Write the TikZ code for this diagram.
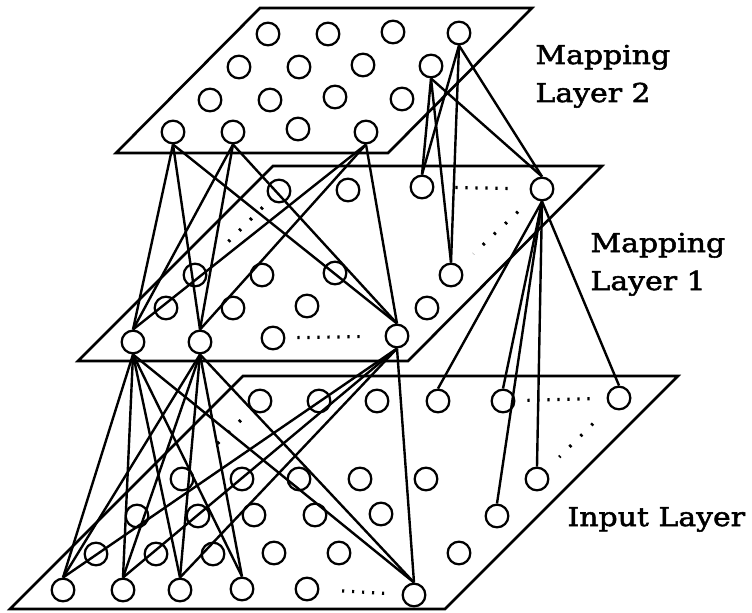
\documentclass[tikz,border=0pt]{standalone}
\usepackage{fontspec}
\setmainfont[FakeStretch=1.15,FakeBold=2]{DejaVu Serif}

\tikzset{every picture/.style={line width=0.75pt}}
\tikzset{
  unit/.style={draw, circle, minimum size=17pt, inner sep=0pt, line width=1.7pt},
  plane/.style={line width=2pt, line join=miter},
  link/.style={line width=1.8pt},
  dotrow/.style={line width=2.4pt, dash pattern=on 1.6pt off 5.9pt},
  dotdiag/.style={line width=2.4pt, dash pattern=on 1.8pt off 9.7pt},
  layername/.style={anchor=base west, inner sep=0pt, align=left, font=\fontsize{19.5}{28.5}\selectfont}
}

\begin{document}
\begin{tikzpicture}[x=0.75pt,y=0.75pt,yscale=-1,xscale=1]
\useasboundingbox (0,0) rectangle (752,613);

%Shape: Parallelogram, mapping layer 2
\draw [plane] (260,8) -- (532,8) -- (388,153) -- (116,153) -- cycle ;
%Shape: Parallelogram, mapping layer 1
\draw [plane] (273,166) -- (602,166) -- (408,361) -- (78,361) -- cycle ;
%Shape: Parallelogram, input layer
\draw [plane] (243,376) -- (678,376) -- (445,609) -- (10,609) -- cycle ;

%Units of mapping layer 2
\node [unit] (t11) at (268,34) {};
\node [unit] (t12) at (328,34) {};
\node [unit] (t13) at (393,32) {};
\node [unit] (t14) at (459,33) {};
\node [unit] (t21) at (239,67) {};
\node [unit] (t22) at (299,67) {};
\node [unit] (t23) at (363,65) {};
\node [unit] (t24) at (431,66) {};
\node [unit] (t31) at (210,100) {};
\node [unit] (t32) at (270,100) {};
\node [unit] (t33) at (335,97) {};
\node [unit] (t34) at (402,99) {};
\node [unit] (t41) at (173,132) {};
\node [unit] (t42) at (233,132) {};
\node [unit] (t43) at (298,129) {};
\node [unit] (t44) at (366,132) {};

%Units of mapping layer 1
\node [unit] (m11) at (279,191) {};
\node [unit] (m12) at (348,190) {};
\node [unit] (m13) at (422,187) {};
\node [unit] (m14) at (542,189) {};
\node [unit] (m21) at (195,275) {};
\node [unit] (m22) at (262,275) {};
\node [unit] (m23) at (335,273) {};
\node [unit] (m24) at (451,275) {};
\node [unit] (m31) at (166,308) {};
\node [unit] (m32) at (233,308) {};
\node [unit] (m33) at (307,306) {};
\node [unit] (m34) at (427,308) {};
\node [unit] (m41) at (133,342) {};
\node [unit] (m42) at (200,342) {};
\node [unit] (m43) at (273,338) {};
\node [unit] (m44) at (397,336) {};

%Units of input layer
\node [unit] (b11) at (260,401) {};
\node [unit] (b12) at (319,401) {};
\node [unit] (b13) at (377,401) {};
\node [unit] (b14) at (438,401) {};
\node [unit] (b15) at (503,401) {};
\node [unit] (b16) at (619,398) {};
\node [unit] (b21) at (182,479) {};
\node [unit] (b22) at (242,479) {};
\node [unit] (b23) at (299,479) {};
\node [unit] (b24) at (360,479) {};
\node [unit] (b25) at (426,479) {};
\node [unit] (b26) at (537,479) {};
\node [unit] (b31) at (137,516) {};
\node [unit] (b32) at (198,516) {};
\node [unit] (b33) at (254,515) {};
\node [unit] (b34) at (315,515) {};
\node [unit] (b35) at (381,514) {};
\node [unit] (b36) at (497,516) {};
\node [unit] (b41) at (96,554) {};
\node [unit] (b42) at (156,554) {};
\node [unit] (b43) at (213,554) {};
\node [unit] (b44) at (274,553) {};
\node [unit] (b45) at (339,553) {};
\node [unit] (b46) at (459,553) {};
\node [unit] (b51) at (63,590) {};
\node [unit] (b52) at (123,590) {};
\node [unit] (b53) at (180,590) {};
\node [unit] (b54) at (242,589) {};
\node [unit] (b55) at (307,589) {};
\node [unit] (b56) at (414,595) {};

%Straight Lines, layer 2 to layer 1
\draw [link] (t41.south) -- (m41.north) ;
\draw [link] (t41.south) -- (m42.north) ;
\draw [link] (t41.south) -- (m44.north) ;
\draw [link] (t42.south) -- (m41.north) ;
\draw [link] (t42.south) -- (m42.north) ;
\draw [link] (t42.south) -- (m44.north) ;
\draw [link] (t44.south) -- (m41.north) ;
\draw [link] (t44.south) -- (m42.north) ;
\draw [link] (t44.south) -- (m44.north) ;
\draw [link] (t14.south) -- (m13.north) ;
\draw [link] (t14.south) -- (m24.north) ;
\draw [link] (t14.south) -- (m14.north) ;
\draw [link] (t24.south) -- (m13.north) ;
\draw [link] (t24.south) -- (m24.north) ;
\draw [link] (t24.south) -- (m14.north) ;

%Straight Lines, layer 1 to input layer
\draw [link] (m41.south) -- (b51.north) ;
\draw [link] (m41.south) -- (b52.north) ;
\draw [link] (m41.south) -- (b53.north) ;
\draw [link] (m41.south) -- (b54.north) ;
\draw [link] (m41.south) -- (b56.north) ;
\draw [link] (m42.south) -- (b51.north) ;
\draw [link] (m42.south) -- (b52.north) ;
\draw [link] (m42.south) -- (b53.north) ;
\draw [link] (m42.south) -- (b54.north) ;
\draw [link] (m42.south) -- (b56.north) ;
\draw [link] (m44.south) -- (b51.north) ;
\draw [link] (m44.south) -- (b52.north) ;
\draw [link] (m44.south) -- (b53.north) ;
\draw [link] (m44.south) -- (b56.north) ;
\draw [link] (m14.south) -- (b14.north) ;
\draw [link] (m14.south) -- (b15.north) ;
\draw [link] (m14.south) -- (b16.north) ;
\draw [link] (m14.south) -- (b26.north) ;
\draw [link] (m14.south) -- (b36.north) ;

%Dotted Lines, omitted units
\draw [dotrow, shorten <=15.75pt, shorten >=11.25pt] (m13) -- (m14) ;
\draw [dotrow, shorten <=9pt, shorten >=15pt] (m43) -- (m44) ;
\draw [dotdiag, shorten <=8pt, shorten >=23pt] (m11) -- (m21) ;
\draw [dotdiag, shorten <=15.4pt, shorten >=13.8pt] (m14) -- (m24) ;
\draw [dotrow, shorten <=17pt, shorten >=10.5pt] (b55) -- (b56) ;
\draw [dotrow, shorten <=9pt, shorten >=9pt] (b15) -- (b16) ;
\draw [dotdiag, shorten <=11pt, shorten >=19.5pt] (b11) -- (b21) ;
\draw [dotdiag, shorten <=18pt, shorten >=14pt] (b16) -- (b26) ;

% Text Node
\node [layername] (lab2) at (535,102) {Mapping\\Layer 2};
% Text Node
\node [layername] (lab1) at (590,290) {Mapping\\Layer 1};
% Text Node
\node [layername] (labin) at (567,526) {Input Layer};

\end{tikzpicture}
\end{document}
